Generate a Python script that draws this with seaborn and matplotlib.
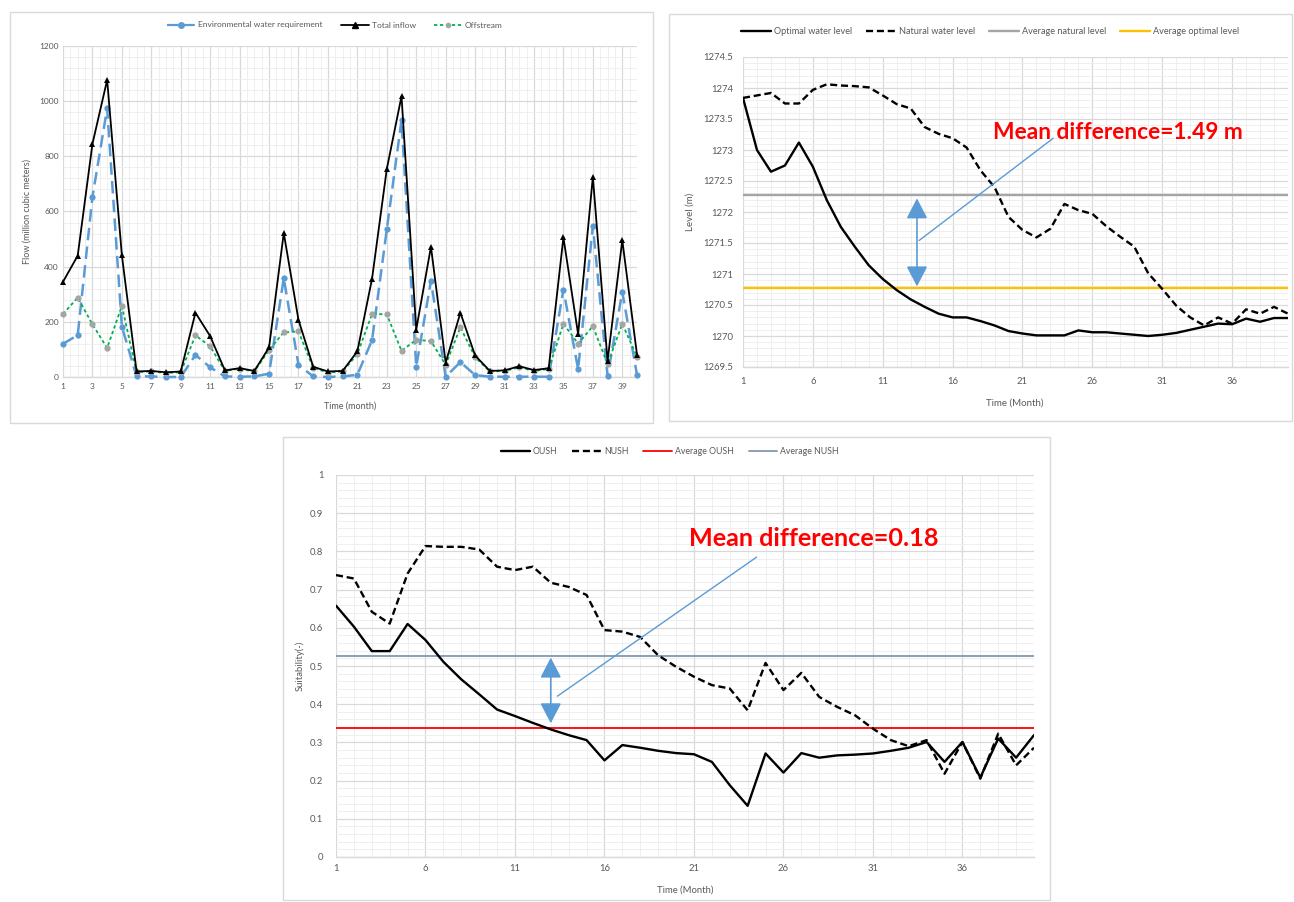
import matplotlib
matplotlib.use("Agg")
import matplotlib.pyplot as plt
from matplotlib.patches import Rectangle
from matplotlib.lines import Line2D
from matplotlib.ticker import MultipleLocator, FixedLocator, FuncFormatter
import seaborn as sns
import pandas as pd

# ---------------- data ----------------
months = list(range(1, 41))

total_inflow = [345, 440, 845, 1077, 441, 20, 22, 17, 20, 233, 148, 24, 32, 22, 107, 522, 207, 37, 20, 22,
                93, 357, 754, 1018, 172, 472, 52, 233, 78, 22, 24, 39, 25, 32, 506, 155, 726, 58, 496, 81]
env_req = [120, 152, 653, 974, 183, 2, 2, 0, 0, 80, 35, 2, 1, 2, 12, 358, 44, 2, 0, 2,
           8, 134, 535, 931, 38, 349, 1, 54, 7, 1, 1, 1, 1, 1, 317, 28, 547, 3, 308, 8]
offstream = [228, 288, 191, 105, 258, 18, 20, 15, 17, 151, 111, 22, 30, 20, 98, 162, 165, 33, 16, 20,
             83, 229, 227, 95, 135, 130, 44, 180, 72, 20, 22, 35, 22, 29, 193, 121, 184, 47, 193, 74]

optimal_level = [1273.84, 1273.00, 1272.65, 1272.75, 1273.12, 1272.73, 1272.19, 1271.76, 1271.44, 1271.14,
                 1270.92, 1270.74, 1270.59, 1270.47, 1270.36, 1270.30, 1270.30, 1270.24, 1270.17, 1270.08,
                 1270.04, 1270.01, 1270.01, 1270.01, 1270.09, 1270.06, 1270.06, 1270.04, 1270.02, 1270.00,
                 1270.02, 1270.05, 1270.10, 1270.15, 1270.20, 1270.19, 1270.28, 1270.23, 1270.29, 1270.29]
natural_level = [1273.84, 1273.88, 1273.92, 1273.75, 1273.75, 1273.97, 1274.06, 1274.04, 1274.03, 1274.01,
                 1273.88, 1273.74, 1273.67, 1273.37, 1273.26, 1273.19, 1273.04, 1272.67, 1272.40, 1271.92,
                 1271.71, 1271.59, 1271.73, 1272.13, 1272.03, 1271.97, 1271.77, 1271.60, 1271.44, 1271.01,
                 1270.76, 1270.49, 1270.30, 1270.17, 1270.30, 1270.20, 1270.43, 1270.36, 1270.47, 1270.36]
avg_natural_level = 1272.28
avg_optimal_level = 1270.77

oush = [0.658, 0.603, 0.539, 0.539, 0.610, 0.568, 0.511, 0.465, 0.426, 0.386,
        0.369, 0.351, 0.334, 0.319, 0.306, 0.253, 0.293, 0.286, 0.278, 0.272,
        0.269, 0.249, 0.188, 0.134, 0.271, 0.221, 0.272, 0.260, 0.266, 0.268,
        0.271, 0.278, 0.286, 0.301, 0.249, 0.301, 0.208, 0.310, 0.260, 0.319]
nush = [0.738, 0.729, 0.642, 0.611, 0.742, 0.814, 0.812, 0.812, 0.805, 0.760,
        0.751, 0.760, 0.718, 0.707, 0.686, 0.594, 0.590, 0.576, 0.528, 0.498,
        0.472, 0.450, 0.441, 0.384, 0.508, 0.437, 0.482, 0.419, 0.393, 0.371,
        0.336, 0.306, 0.290, 0.306, 0.218, 0.301, 0.205, 0.323, 0.240, 0.286]
avg_oush = 0.339
avg_nush = 0.526

level_text = "Mean difference=1.49 m"
suit_text = "Mean difference=0.18"

# ---------------- style ----------------
sns.set_theme(style="white")
plt.rcParams['font.family'] = ['Lato', 'DejaVu Sans']
GRAY_TXT = '#595959'
MAJ = '#d9d9d9'
MIN = '#ededed'
BLUE = '#5b9bd5'

W, H = 1294, 902
fig = plt.figure(figsize=(W / 100, H / 100), dpi=100)
fig.patch.set_facecolor('white')


def add_box(x0, y0, x1, y1):
    fig.add_artist(Rectangle((x0 / W, 1 - y1 / H), (x1 - x0) / W, (y1 - y0) / H,
                             transform=fig.transFigure, fill=False, ec='#d9d9d9', lw=1.0))


def ax_at(x0, y0, x1, y1):
    return fig.add_axes([x0 / W, 1 - y1 / H, (x1 - x0) / W, (y1 - y0) / H])


def style(ax, fs, xpad, ypad):
    ax.set_facecolor('white')
    ax.grid(which='major', color=MAJ, lw=0.9)
    ax.grid(which='minor', color=MIN, lw=0.6)
    ax.set_axisbelow(True)
    for s in ['top', 'right', 'left']:
        ax.spines[s].set_visible(False)
    ax.spines['bottom'].set_color(MAJ)
    ax.spines['bottom'].set_linewidth(1.0)
    ax.tick_params(which='both', length=0, labelsize=fs, labelcolor=GRAY_TXT)
    ax.tick_params(axis='x', pad=xpad)
    ax.tick_params(axis='y', pad=ypad)
    ax.yaxis.set_major_formatter(FuncFormatter(lambda v, p: f'{v:g}'))


add_box(10, 12, 653, 423)
add_box(669, 14, 1292, 421)
add_box(283, 437, 1050, 900)

# ---------------- panel 1: flows ----------------
ax1 = ax_at(63, 46, 637, 377)
df1 = pd.DataFrame({'month': months, 'total': total_inflow, 'env': env_req, 'off': offstream})
sns.lineplot(data=df1, x='month', y='env', ax=ax1, color=BLUE, lw=1.8,
             marker='o', markersize=4.5, markeredgewidth=0, zorder=3, clip_on=False)
ax1.lines[-1].set_dashes([5, 2.5])
sns.lineplot(data=df1, x='month', y='off', ax=ax1, color='#00b050', lw=1.3,
             marker='o', markersize=4.5, markerfacecolor='#a5a5a5', markeredgewidth=0, zorder=4,
             clip_on=False)
ax1.lines[-1].set_dashes([1.8, 1.5])
sns.lineplot(data=df1, x='month', y='total', ax=ax1, color='black', lw=1.3,
             marker='^', markersize=4.5, markeredgewidth=0, zorder=5, clip_on=False)
ax1.set_xlim(1, 40)
ax1.set_ylim(0, 1200)
ax1.xaxis.set_major_locator(FixedLocator(list(range(1, 40, 2))))
ax1.xaxis.set_minor_locator(MultipleLocator(0.5))
ax1.yaxis.set_major_locator(MultipleLocator(200))
ax1.yaxis.set_minor_locator(MultipleLocator(40))
style(ax1, 6, 4, 3)
ax1.set_xlabel('Time (month)', fontsize=6.5, color=GRAY_TXT)
ax1.set_ylabel('Flow (million cubic meters)', fontsize=6.5, color=GRAY_TXT)
ax1.xaxis.set_label_coords(0.5, -0.075)
ax1.yaxis.set_label_coords(-0.055, 0.5)
h1 = [Line2D([], [], color=BLUE, lw=1.6, marker='o', markersize=4, dashes=[5, 2.5]),
      Line2D([], [], color='black', lw=1.3, marker='^', markersize=4),
      Line2D([], [], color='#00b050', lw=1.3, marker='o', markersize=4, markerfacecolor='#a5a5a5',
             markeredgewidth=0, dashes=[1.8, 1.5])]
fig.legend(h1, ['Environmental water requirement', 'Total inflow', 'Offstream'],
           loc='center', bbox_to_anchor=(335 / W, 1 - 25 / H), ncol=3, frameon=False,
           fontsize=6, labelcolor=GRAY_TXT, handlelength=3.4, handletextpad=0.3, columnspacing=2.2)

# ---------------- panel 2: levels ----------------
ax2 = ax_at(743, 57, 1288, 367)
df2 = pd.DataFrame({'month': months, 'opt': optimal_level, 'nat': natural_level})
sns.lineplot(data=df2, x='month', y='opt', ax=ax2, color='black', lw=1.7, zorder=4)
sns.lineplot(data=df2, x='month', y='nat', ax=ax2, color='black', lw=1.7, zorder=4)
ax2.lines[-1].set_dashes([3, 1.6])
ax2.axhline(avg_natural_level, color='#a5a5a5', lw=1.7, zorder=3)
ax2.axhline(avg_optimal_level, color='#ffc000', lw=1.7, zorder=3)
ax2.set_xlim(1, 40)
ax2.set_ylim(1269.5, 1274.5)
ax2.xaxis.set_major_locator(FixedLocator(list(range(1, 40, 5))))
ax2.xaxis.set_minor_locator(MultipleLocator(1))
ax2.yaxis.set_major_locator(MultipleLocator(0.5))
ax2.yaxis.set_minor_locator(MultipleLocator(0.1))
style(ax2, 6.8, 7, 7)
ax2.set_xlabel('Time (Month)', fontsize=7, color=GRAY_TXT)
ax2.set_ylabel('Level (m)', fontsize=7, color=GRAY_TXT)
ax2.xaxis.set_label_coords((1015 - 743) / 545, -(399 - 367) / 310)
ax2.yaxis.set_label_coords(-(743 - 695) / 545, 0.5)
ax2.annotate('', xy=(13.45, 1270.80), xytext=(13.45, 1272.22),
             arrowprops=dict(arrowstyle='<|-|>,head_length=1.25,head_width=0.65', mutation_scale=10,
                             color=BLUE, lw=1.2, shrinkA=0, shrinkB=0), zorder=6)
ax2.plot([13.6, 23.2], [1271.54, 1273.19], color=BLUE, lw=1.0, zorder=6)
ax2.text(27.8, 1273.29, level_text, color='#ff0000', fontsize=16.4, fontweight='bold',
         ha='center', va='center', zorder=7)
h2 = [Line2D([], [], color='black', lw=1.7),
      Line2D([], [], color='black', lw=1.7, dashes=[3, 1.6]),
      Line2D([], [], color='#a5a5a5', lw=1.7),
      Line2D([], [], color='#ffc000', lw=1.7)]
fig.legend(h2, ['Optimal water level', 'Natural water level', 'Average natural level', 'Average optimal level'],
           loc='center', bbox_to_anchor=(990 / W, 1 - 32 / H), ncol=4, frameon=False,
           fontsize=6.6, labelcolor=GRAY_TXT, handlelength=3.3, handletextpad=0.3, columnspacing=1.5)

# ---------------- panel 3: suitability ----------------
ax3 = ax_at(336, 475, 1034, 857)
df3 = pd.DataFrame({'month': months, 'oush': oush, 'nush': nush})
sns.lineplot(data=df3, x='month', y='oush', ax=ax3, color='black', lw=1.7, zorder=4)
sns.lineplot(data=df3, x='month', y='nush', ax=ax3, color='black', lw=1.7, zorder=4)
ax3.lines[-1].set_dashes([3, 1.6])
ax3.axhline(avg_oush, color='#ff0000', lw=1.3, zorder=3)
ax3.axhline(avg_nush, color='#8497b0', lw=1.3, zorder=3)
ax3.set_xlim(1, 40)
ax3.set_ylim(0, 1)
ax3.xaxis.set_major_locator(FixedLocator(list(range(1, 40, 5))))
ax3.xaxis.set_minor_locator(MultipleLocator(1))
ax3.yaxis.set_major_locator(MultipleLocator(0.1))
ax3.yaxis.set_minor_locator(MultipleLocator(0.02))
style(ax3, 6.8, 5, 9)
ax3.set_xlabel('Time (Month)', fontsize=6.8, color=GRAY_TXT)
ax3.set_ylabel('Suitability(-)', fontsize=6.8, color=GRAY_TXT)
ax3.xaxis.set_label_coords((685 - 336) / 698, -(886 - 857) / 382)
ax3.yaxis.set_label_coords(-(336 - 305) / 698, 0.5)
ax3.annotate('', xy=(13.0, 0.350), xytext=(13.0, 0.522),
             arrowprops=dict(arrowstyle='<|-|>,head_length=1.25,head_width=0.65', mutation_scale=10,
                             color=BLUE, lw=1.2, shrinkA=0, shrinkB=0), zorder=6)
ax3.plot([13.37, 24.5], [0.421, 0.785], color=BLUE, lw=1.0, zorder=6)
ax3.text(27.7, 0.835, suit_text, color='#ff0000', fontsize=18.2, fontweight='bold',
         ha='center', va='center', zorder=7)
h3 = [Line2D([], [], color='black', lw=1.7),
      Line2D([], [], color='black', lw=1.7, dashes=[3, 1.6]),
      Line2D([], [], color='#ff0000', lw=1.3),
      Line2D([], [], color='#8497b0', lw=1.3)]
fig.legend(h3, ['OUSH', 'NUSH', 'Average OUSH', 'Average NUSH'],
           loc='center', bbox_to_anchor=(670 / W, 1 - 452 / H), ncol=4, frameon=False,
           fontsize=6.3, labelcolor=GRAY_TXT, handlelength=3.3, handletextpad=0.3, columnspacing=1.7)

fig.savefig('out.png', dpi=100, facecolor='white')
